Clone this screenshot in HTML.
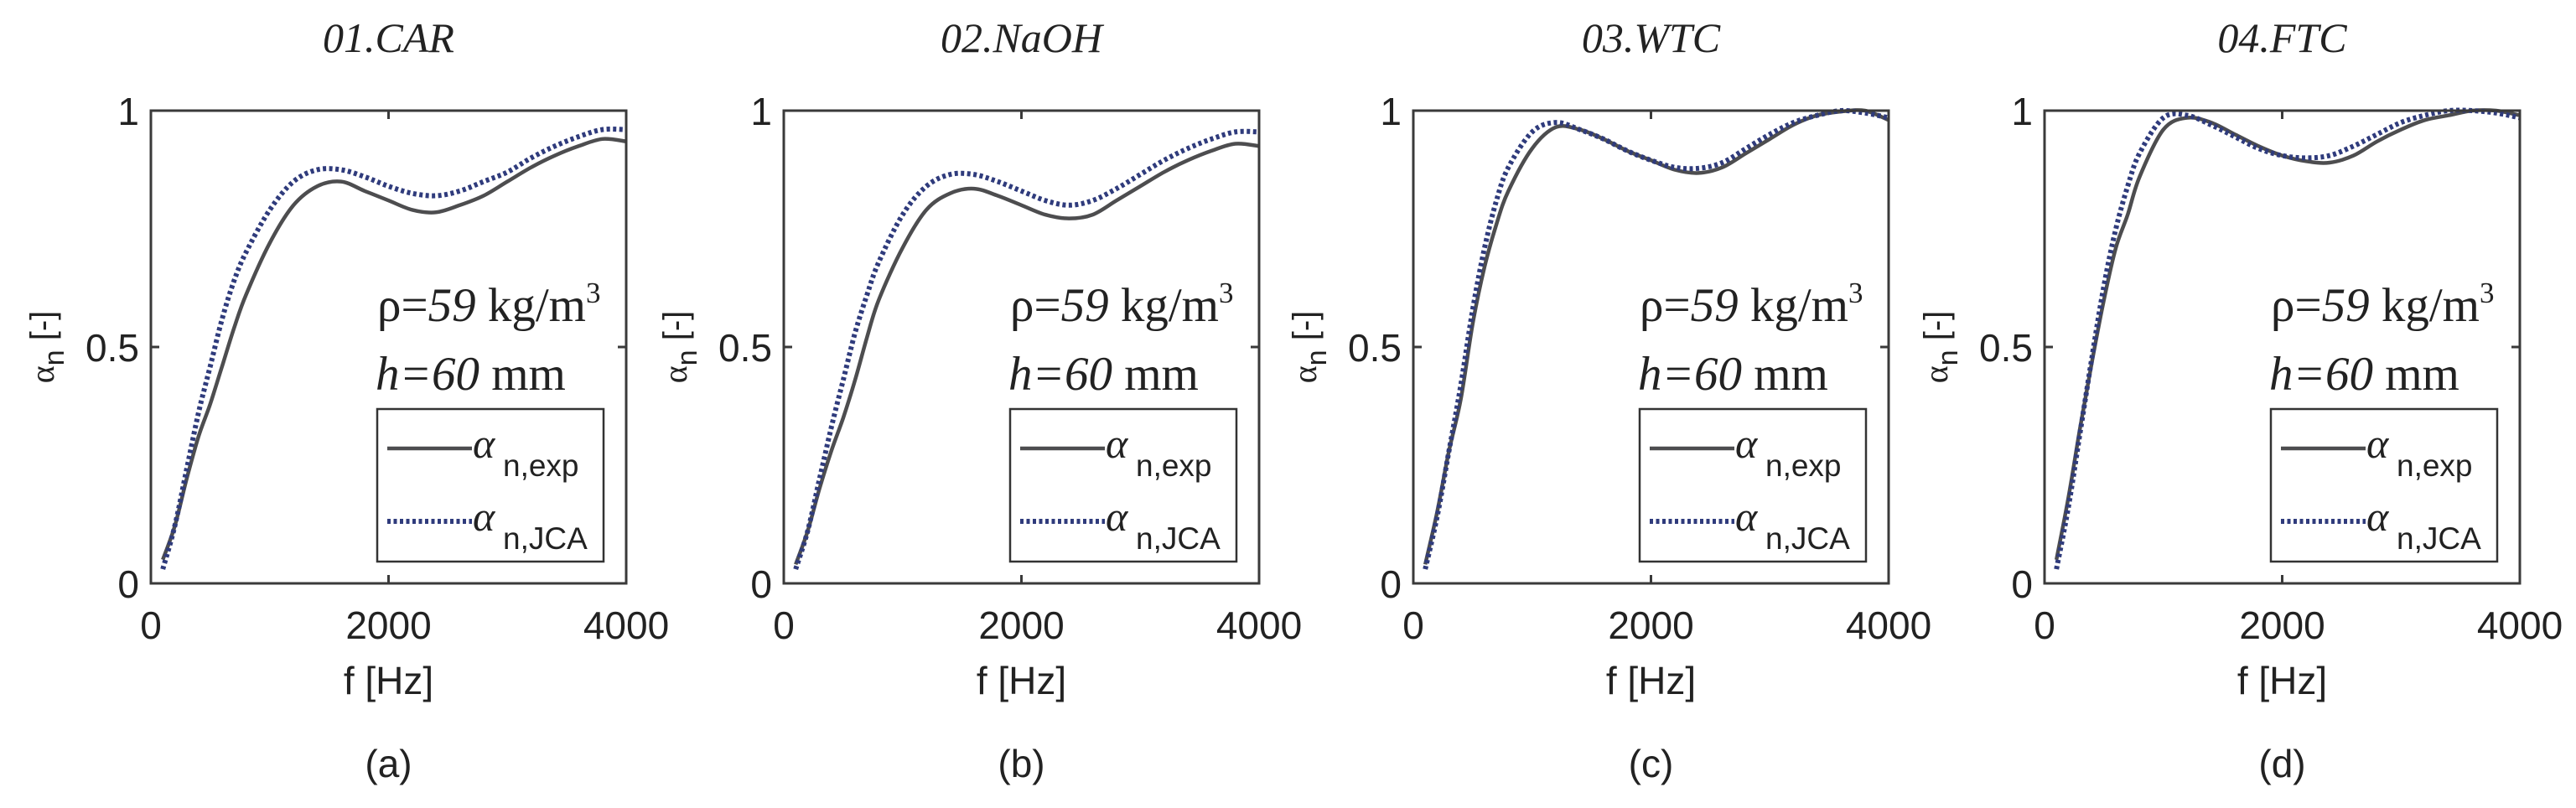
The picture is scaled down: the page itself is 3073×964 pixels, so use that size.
<!DOCTYPE html>
<html><head><meta charset="utf-8"><style>
html,body{margin:0;padding:0;background:#fff;}
svg{display:block;}
.tick{font-family:"Liberation Sans",sans-serif;font-size:46px;fill:#222;}
.ttl{font-family:"Liberation Serif",serif;font-style:italic;font-size:50px;fill:#222;}
.ann{font-family:"Liberation Serif",serif;font-size:57px;fill:#222;}
.leg{font-family:"Liberation Sans",sans-serif;fill:#222;}
</style></head><body>
<svg id="fig" width="3073" height="964" viewBox="0 0 3073 964" xmlns="http://www.w3.org/2000/svg"></svg>
<script>
const freqs=[100,200,300,400,500,600,700,800,1000,1200,1400,1600,1800,2000,2200,2400,2600,2800,3000,3200,3400,3600,3800,4000];
const titles=["01.CAR","02.NaOH","03.WTC","04.FTC"];
const letters=["(a)","(b)","(c)","(d)"];
const xTicks=[0,2000,4000];
const yTicks=[0,0.5,1];
const yTickLabels=["0","0.5","1"];
const expA=[0.05,0.12,0.22,0.31,0.38,0.46,0.54,0.61,0.72,0.80,0.84,0.85,0.83,0.81,0.79,0.785,0.80,0.82,0.85,0.88,0.905,0.925,0.94,0.935];
const jcaA=[0.03,0.12,0.24,0.36,0.46,0.56,0.64,0.70,0.79,0.85,0.875,0.875,0.86,0.84,0.825,0.82,0.83,0.85,0.87,0.90,0.925,0.945,0.96,0.96];
const expB=[0.04,0.11,0.20,0.28,0.35,0.43,0.52,0.60,0.71,0.79,0.825,0.835,0.82,0.80,0.78,0.772,0.78,0.81,0.84,0.87,0.895,0.915,0.93,0.925];
const jcaB=[0.03,0.11,0.22,0.33,0.43,0.53,0.61,0.68,0.78,0.84,0.865,0.865,0.85,0.83,0.81,0.80,0.81,0.835,0.865,0.895,0.92,0.94,0.955,0.955];
const expC=[0.04,0.15,0.28,0.39,0.55,0.67,0.76,0.83,0.92,0.965,0.96,0.94,0.915,0.895,0.875,0.868,0.88,0.91,0.94,0.97,0.99,0.998,1.0,0.98];
const jcaC=[0.03,0.14,0.28,0.42,0.58,0.71,0.81,0.88,0.955,0.975,0.96,0.94,0.915,0.895,0.88,0.878,0.89,0.92,0.95,0.975,0.99,1.0,0.995,0.985];
const expD=[0.05,0.18,0.33,0.47,0.60,0.71,0.78,0.86,0.96,0.985,0.975,0.95,0.925,0.905,0.893,0.89,0.905,0.935,0.96,0.98,0.99,1.0,1.0,0.99];
const jcaD=[0.03,0.16,0.32,0.48,0.63,0.75,0.84,0.91,0.985,0.99,0.97,0.945,0.92,0.905,0.9,0.905,0.925,0.95,0.975,0.99,1.0,1.0,0.995,0.985];
const expSeries=[expA,expB,expC,expD];
const jcaSeries=[jcaA,jcaB,jcaC,jcaD];

const NS="http://www.w3.org/2000/svg";
const svg=document.getElementById('fig');
function mk(tag,attrs,parent,text){const e=document.createElementNS(NS,tag);for(const k in attrs)e.setAttribute(k,attrs[k]);if(text!==undefined)e.textContent=text;(parent||svg).appendChild(e);return e;}
const lefts=[180,935,1686,2439];
const W=567, TOP=132, BOT=696;
function smoothPath(pts){let d=`M${pts[0][0].toFixed(1)},${pts[0][1].toFixed(1)}`;for(let i=0;i<pts.length-1;i++){const p0=pts[i-1]||pts[i],p1=pts[i],p2=pts[i+1],p3=pts[i+2]||p2;const c1=[p1[0]+(p2[0]-p0[0])/6,p1[1]+(p2[1]-p0[1])/6],c2=[p2[0]-(p3[0]-p1[0])/6,p2[1]-(p3[1]-p1[1])/6];d+=` C${c1[0].toFixed(1)},${c1[1].toFixed(1)} ${c2[0].toFixed(1)},${c2[1].toFixed(1)} ${p2[0].toFixed(1)},${p2[1].toFixed(1)}`;}return d;}

for(let p=0;p<4;p++){
  const L=lefts[p],R=L+W;
  const xs=f=>L+f/4000*W, ys=v=>BOT-v*(BOT-TOP);
  const g=mk('g',{});
  
  
  const t=mk('text',{x:L+W/2,y:62,'text-anchor':'middle',class:'ttl'},g,titles[p]);
  
  
  const cp=mk('clipPath',{id:'clip'+p},g);mk('rect',{x:L,y:TOP-4,width:W,height:BOT-TOP+4},cp);
  const ex=mk('path',{d:smoothPath(freqs.map((f,i)=>[xs(f),ys(expSeries[p][i])])),fill:'none',stroke:'#4d4d4f','stroke-width':4.5,'clip-path':`url(#clip${p})`},g);
  
  
  const jc=mk('path',{d:smoothPath(freqs.map((f,i)=>[xs(f),ys(jcaSeries[p][i])])),fill:'none',stroke:'#2f3b7c','stroke-width':6,'stroke-dasharray':'4 3.5','clip-path':`url(#clip${p})`},g);
  
  
  const box=mk('rect',{x:L,y:TOP,width:W,height:BOT-TOP,fill:'none',stroke:'#3a3a3a','stroke-width':3},g);
  
  
  xTicks.forEach(v=>{const x=xs(v);
    mk('line',{x1:x,y1:BOT,x2:x,y2:BOT-10,stroke:'#3a3a3a','stroke-width':3},g);
    mk('line',{x1:x,y1:TOP,x2:x,y2:TOP+10,stroke:'#3a3a3a','stroke-width':3},g);
    const tl=mk('text',{x:x,y:762,'text-anchor':'middle',class:'tick'},g,String(v));
    
    
  });
  yTicks.forEach((v,i)=>{const y=ys(v);
    mk('line',{x1:L,y1:y,x2:L+10,y2:y,stroke:'#3a3a3a','stroke-width':3},g);
    mk('line',{x1:R,y1:y,x2:R-10,y2:y,stroke:'#3a3a3a','stroke-width':3},g);
    const tl=mk('text',{x:L-14,y:y+17,'text-anchor':'end',class:'tick'},g,yTickLabels[i]);
    
    
  });
  const xl=mk('text',{x:L+W/2,y:828,'text-anchor':'middle',class:'tick'},g,'f [Hz]');
  
  
  const yl=mk('text',{transform:`translate(${L-116},414) rotate(-90)`,'text-anchor':'middle',class:'leg','font-size':40},g);
  
  
  mk('tspan',{'font-family':'"Liberation Serif",serif'},yl,'α');
  mk('tspan',{dy:12,'font-size':34},yl,'n');
  mk('tspan',{dy:-12},yl,' [-]');
  const lt=mk('text',{x:L+W/2,y:927,'text-anchor':'middle',class:'tick','font-size':48},g,letters[p]);
  
  
  const a1=mk('text',{x:L+270,y:383,class:'ann'},g);
  
  
  mk('tspan',{},a1,'ρ=');mk('tspan',{'font-style':'italic'},a1,'59');mk('tspan',{},a1,' kg/m');mk('tspan',{dy:-22,'font-size':35},a1,'3');
  const a2=mk('text',{x:L+268,y:465,class:'ann'},g);
  
  
  mk('tspan',{'font-style':'italic'},a2,'h=60');mk('tspan',{},a2,' mm');
  const lg=mk('g',{},g);
  
  
  mk('rect',{x:L+270,y:488,width:270,height:182,fill:'#fff',stroke:'#333','stroke-width':2.5},lg);
  [[535,'n,exp',false],[622,'n,JCA',true]].forEach(([y,lab,dash])=>{
    const en=mk('g',{},lg);
    
    
    mk('line',{x1:L+282,y1:y,x2:L+383,y2:y,stroke:dash?'#2f3b7c':'#4d4d4f','stroke-width':dash?6:4.5,'stroke-dasharray':dash?'4 3.5':'none'},en);
    mk('text',{x:L+384,y:y+11,'font-family':'"Liberation Serif",serif','font-style':'italic','font-size':50,fill:'#222'},en,'α');
    mk('text',{x:L+420,y:y+33,class:'leg','font-size':37},en,lab);
  });
}
</script>
</body></html>
